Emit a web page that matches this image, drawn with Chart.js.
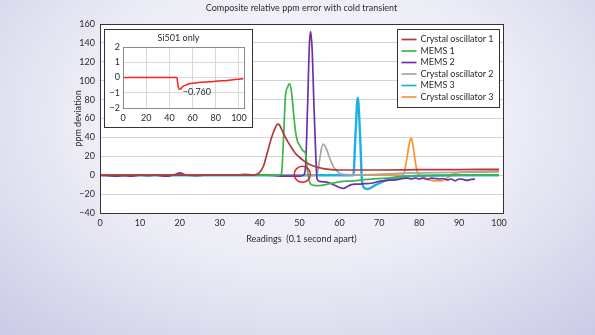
<!DOCTYPE html>
<html>
<head>
<meta charset="utf-8">
<script src="https://cdn.jsdelivr.net/npm/chart.js@4.4.1/dist/chart.umd.min.js"></script>
<style>
  html, body { margin: 0; padding: 0; }
  body {
    width: 595px; height: 335px; overflow: hidden; position: relative;
    background: radial-gradient(ellipse 75% 90% at 50% 35%, #f9f9fd 0%, #ececf6 50%, #c9c9e6 100%);
    font-family: Lato, sans-serif;
  }
  #main { position: absolute; left: 0; top: 0; }
  #insetBox {
    position: absolute; left: 104px; top: 29px; width: 149px; height: 99px;
    box-sizing: border-box; border: 1px solid #333; background: #fff;
  }
  #inset { display: block; }
</style>
</head>
<body>
<canvas id="main" width="595" height="335"></canvas>
<div id="insetBox"><canvas id="inset" width="147" height="97"></canvas></div>
<script>
// 読み取った値 (x: readings, y: ppm deviation)
const co1X = [0, 10, 20, 30, 38, 39, 40, 41, 42, 43, 44, 44.5, 45, 46, 47, 48, 49, 50, 51, 52, 53, 54, 55, 56, 58, 60, 65, 70, 80, 90, 100];
const co1Y = [0, 0, 0, 0, 0, 0.5, 3, 10, 25, 40, 51, 54, 53, 44, 36, 29, 23, 19, 15.5, 12.5, 10.5, 9, 8, 7, 6, 5.5, 5.5, 5.5, 5.8, 6, 6.2];

const mems1X = [0, 10, 20, 30, 40, 45, 45.5, 46, 46.5, 47, 47.5, 48, 48.5, 49, 49.5, 50, 50.5, 51, 51.5, 52, 52.5, 53, 54, 55, 56, 57, 60, 63.5, 67, 72, 77, 80, 90, 100];
const mems1Y = [0, 0, 0, 0, 0, 0, 2, 40, 85, 93, 97, 88, 66, 46, 36, 32, 28, 25.5, 23, 5, -7, -10, -11, -11, -10.5, -9.5, -7, -6, -4.5, -3, -1, -0.5, 0, 0];

const mems2X = [0, 2, 4, 6, 8, 10, 12, 14, 16, 17, 18, 19, 20, 21, 22, 24, 26, 28, 30, 32, 34, 36, 38, 40, 42, 44, 46, 48, 50, 51, 51.5, 52, 52.5, 52.8, 53.2, 53.6, 54, 54.4, 55, 56, 57, 58, 59, 60, 61, 62, 63, 64, 65, 66, 68, 70, 72, 74, 76, 77, 78, 79, 80, 81, 82, 83, 84, 85, 86, 87, 88, 89, 90, 91, 92, 93, 94];
const mems2Y = [0, -0.5, -1, -0.5, -1, 0, -0.5, 0, -1, -1, 0, 1, 2.5, 1, 0, -0.5, 0, 0.5, 0, 0.5, 0, 1, 0.5, 0, 0, -0.5, -1, -1, -1, 0, 8, 70, 140, 152, 130, 76, 30, -4, -6.5, -7, -7.5, -9, -11, -13, -14, -12, -10, -9.5, -9.5, -9, -8.5, -6.5, -5.5, -5, -3.5, -3, -4, -3, -4, -3, -4.5, -3, -3.5, -4, -3.5, -5, -4, -6, -4, -4.5, -5.5, -4.5, -4];

const co2X = [0, 54, 54.5, 55, 55.5, 56, 56.5, 57, 57.5, 58, 58.5, 59, 59.5, 60, 61, 63, 70, 75, 80, 90, 100];
const co2Y = [0, 0, 3, 15, 28, 33, 30, 25, 19, 13.5, 9, 6, 4, 2, 0.8, 0.3, 1, 2, 2.5, 3, 3.5];

const mems3X = [0, 50, 63.5, 64, 64.6, 65.2, 65.7, 66.5, 67, 68, 69, 70.4, 72, 74.5, 78, 82, 90, 100];
const mems3Y = [0, 0, 0, 40, 82, 40, -8, -14, -14.7, -13, -10.5, -7.7, -5, -2.4, -1, -0.5, 0, 0];

const co3X = [0, 75, 76, 76.5, 77, 77.5, 78, 78.5, 79, 79.5, 80, 81, 82, 83, 84, 85, 86, 87, 88, 89, 90, 92, 95, 100];
const co3Y = [0, 0, 0, 8, 20, 33, 39.5, 30, 15, 4, 0, -2, -4, -5.5, -6, -6, -5.5, -3, 0, 2, 3, 3.5, 4, 4.5];

const seriesNames = ['Crystal oscillator 1', 'MEMS 1', 'MEMS 2', 'Crystal oscillator 2', 'MEMS 3', 'Crystal oscillator 3'];
const seriesColors = ['#b3383d', '#3db54a', '#7030a0', '#a6a6a6', '#1ab0ea', '#f7962f'];

// 赤丸の位置
const markX = [50.7];
const markY = [1];

// インセット (Si501 only)
const siX = [0, 46, 46.5, 47, 47.5, 48, 49, 49.5, 50, 51, 52, 54, 56, 58, 60, 65, 70, 75, 80, 85, 90, 95, 100, 104];
const siY = [0, 0, 0, -0.3, -0.55, -0.7, -0.78, -0.77, -0.72, -0.64, -0.57, -0.5, -0.44, -0.4, -0.37, -0.33, -0.3, -0.28, -0.25, -0.22, -0.19, -0.15, -0.11, -0.08];
const siMinLabel = '\u22120.760';

const xTicksMain = { min: 0, max: 101, step: 10 };
const yTicksMain = { min: -40, max: 160, step: 20 };

const FONT = 'Lato, "Noto Sans", sans-serif';
const TEXT = '#2b2b2b';

function pts(xs, ys) { return xs.map((x, i) => ({ x, y: ys[i] })); }
function minus(v) { return v < 0 ? '\u2212' + Math.abs(v) : String(v); }

const allX = [co1X, mems1X, mems2X, co2X, mems3X, co3X];
const allY = [co1Y, mems1Y, mems2Y, co2Y, mems3Y, co3Y];

const datasets = seriesNames.map((name, i) => ({
  label: name,
  data: pts(allX[i], allY[i]),
  borderColor: seriesColors[i],
  borderWidth: i === 4 ? 2.4 : 1.7,
  pointRadius: 0,
  fill: false,
  cubicInterpolationMode: 'monotone',
  isSeries: true
}));
datasets.push({
  label: 'mark',
  type: 'scatter',
  data: pts(markX, markY),
  pointRadius: 8,
  pointBorderColor: '#e8202a',
  pointBackgroundColor: 'rgba(0,0,0,0)',
  pointBorderWidth: 1.5,
  order: -1
});

// プロット領域の白背景と枠
const framePlugin = {
  id: 'frame',
  beforeDraw(chart, args, opts) {
    const a = chart.chartArea, c = chart.ctx;
    c.save();
    c.fillStyle = '#fff';
    c.fillRect(a.left, a.top, a.right - a.left, a.bottom - a.top);
    c.restore();
  },
  afterDraw(chart, args, opts) {
    const a = chart.chartArea, c = chart.ctx;
    c.save();
    c.strokeStyle = opts.color || '#333';
    c.lineWidth = 1;
    c.strokeRect(Math.round(a.left) + 0.5, Math.round(a.top) + 0.5,
      Math.round(a.right - a.left), Math.round(a.bottom - a.top));
    c.restore();
  }
};

// 右上の凡例
const boxLegend = {
  id: 'boxLegend',
  afterDraw(chart) {
    const a = chart.chartArea, c = chart.ctx;
    const items = chart.data.datasets.filter(d => d.isSeries);
    const w = 102, rowH = 11.5;
    const h = items.length * rowH + 9;
    const left = Math.round(a.right) - 106 + 0.5;
    const top = Math.round(a.top) + 5 + 0.5;
    c.save();
    c.fillStyle = '#fff';
    c.fillRect(left, top, w, h);
    c.strokeStyle = '#333';
    c.lineWidth = 1;
    c.strokeRect(left, top, w, h);
    c.font = '9px ' + FONT;
    c.textBaseline = 'middle';
    c.textAlign = 'left';
    items.forEach((d, i) => {
      const y = top + 10 + i * rowH;
      c.strokeStyle = d.borderColor;
      c.lineWidth = 1.7;
      c.beginPath();
      c.moveTo(left + 4, y);
      c.lineTo(left + 19, y);
      c.stroke();
      c.fillStyle = TEXT;
      c.fillText(d.label, left + 23, y);
    });
    c.restore();
  }
};

new Chart(document.getElementById('main'), {
  type: 'line',
  data: { datasets },
  options: {
    responsive: false,
    animation: false,
    layout: { padding: { left: 70, right: 92, top: 0, bottom: 90.6 } },
    plugins: {
      legend: { display: false },
      tooltip: { enabled: false },
      title: {
        display: true,
        text: 'Composite relative ppm error with cold transient',
        fullSize: false,
        color: TEXT,
        font: { family: FONT, size: 9, weight: 'normal' },
        padding: { top: 3, bottom: 10.2 }
      },
      frame: { color: '#333' }
    },
    scales: {
      x: {
        type: 'linear',
        min: xTicksMain.min, max: xTicksMain.max,
        grid: { display: false, drawTicks: false },
        border: { display: false },
        ticks: { stepSize: xTicksMain.step, includeBounds: false, padding: 5, color: TEXT,
          font: { family: FONT, size: 9 }, maxRotation: 0, callback: minus },
        title: { display: true, text: 'Readings  (0.1 second apart)', color: TEXT,
          font: { family: FONT, size: 9 }, padding: { top: 0, bottom: 0 } },
        afterFit(s) { s.height = 31.4; }
      },
      y: {
        min: yTicksMain.min, max: yTicksMain.max,
        grid: { color: '#d3d3d3', drawTicks: false },
        border: { display: false },
        ticks: { stepSize: yTicksMain.step, padding: 5, color: TEXT,
          font: { family: FONT, size: 9 }, callback: minus },
        title: { display: true, text: 'ppm deviation', color: TEXT,
          font: { family: FONT, size: 9 }, padding: { top: 2.5, bottom: 0 } },
        afterFit(s) { s.width = 30; }
      }
    }
  },
  plugins: [framePlugin, boxLegend]
});

// インセットの最小値ラベル
const minLabel = {
  id: 'minLabel',
  afterDatasetsDraw(chart) {
    const ys = siY;
    let k = 0;
    ys.forEach((v, i) => { if (v < ys[k]) k = i; });
    const el = chart.getDatasetMeta(0).data[k];
    const c = chart.ctx;
    c.save();
    c.font = '9px ' + FONT;
    c.fillStyle = TEXT;
    c.textAlign = 'left';
    c.textBaseline = 'middle';
    c.fillText(siMinLabel, el.x + 3, el.y + 3);
    c.restore();
  }
};

new Chart(document.getElementById('inset'), {
  type: 'line',
  data: {
    datasets: [{
      label: 'Si501',
      data: pts(siX, siY),
      borderColor: '#ff1f1f',
      borderWidth: 1.5,
      pointRadius: 0,
      cubicInterpolationMode: 'monotone'
    }]
  },
  options: {
    responsive: false,
    animation: false,
    layout: { padding: { left: 5, right: 5, top: 0, bottom: 0 } },
    plugins: {
      legend: { display: false },
      tooltip: { enabled: false },
      title: {
        display: true, text: 'Si501 only', color: TEXT,
        font: { family: FONT, size: 9, weight: 'normal' },
        padding: { top: 3, bottom: 3.2 }
      },
      frame: { color: '#8a8a8a' }
    },
    scales: {
      x: {
        type: 'linear', min: 0, max: 104,
        grid: { color: '#d9d9d9', drawTicks: false },
        border: { display: false },
        ticks: { stepSize: 20, includeBounds: false, padding: 5, color: TEXT,
          font: { family: FONT, size: 9 }, maxRotation: 0 },
        afterFit(s) { s.height = 19; }
      },
      y: {
        min: -2, max: 2,
        grid: { color: '#d9d9d9', drawTicks: false },
        border: { display: false },
        ticks: { stepSize: 1, padding: 3, color: TEXT,
          font: { family: FONT, size: 9 }, callback: minus },
        afterFit(s) { s.width = 13; }
      }
    }
  },
  plugins: [framePlugin, minLabel]
});
</script>
</body>
</html>
